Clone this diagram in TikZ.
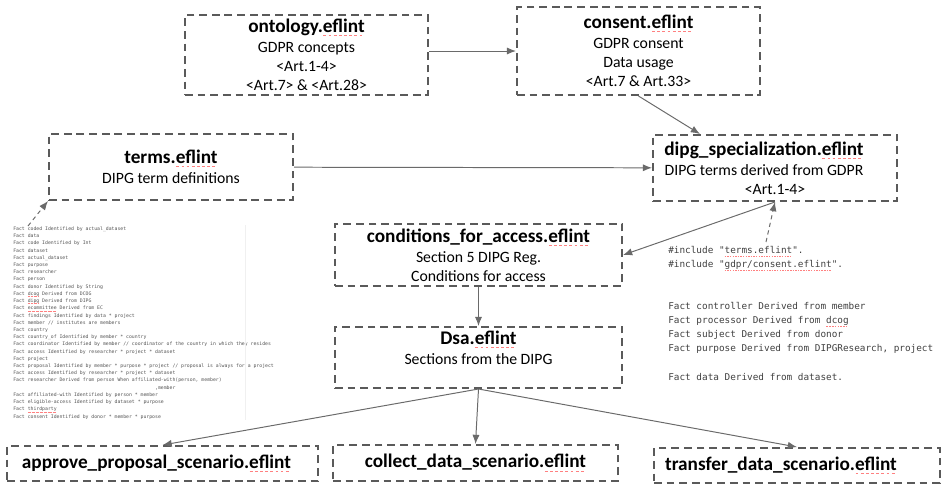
\documentclass[tikz,border=0pt]{standalone}
\usepackage{fontspec}
\setmainfont{Carlito}
\setmonofont{DejaVu Sans Mono}
\usetikzlibrary{arrows.meta,calc}
\definecolor{boxgray}{HTML}{5A5A5A}
\definecolor{linegray}{HTML}{6A6A6A}
\definecolor{codegray}{HTML}{555555}
\newsavebox\spellbox
\newcommand\spell[1]{\sbox\spellbox{#1}\leavevmode\rlap{\raisebox{-0.4ex}{\textcolor{red!50}{\hbox to \wd\spellbox{\xleaders\hbox{\rule{0.3ex}{0.09ex}\kern0.2ex}\hfil}}}}\usebox\spellbox}
\newcommand\ttl{\fontsize{13.7}{17}\selectfont\bfseries}

\begin{document}
\begin{tikzpicture}[x=0.025cm,y=-0.025cm,
	box/.style={draw=boxgray,line width=1.4pt,dash pattern=on 5.5pt off 3.5pt,
		inner sep=0pt,align=center,font=\fontsize{11.2}{13.5}\selectfont},
	conn/.style={draw=linegray,line width=0.7pt,-{Latex[length=2.3mm,width=1.8mm]}},
	dconn/.style={draw=linegray,line width=0.7pt,dash pattern=on 3pt off 2.5pt,-{Latex[length=2.3mm,width=1.8mm]}},
	code/.style={anchor=north west,inner sep=0pt,align=left,text=codegray}]
	\useasboundingbox (0,0) rectangle (942,483);
				\node[box,minimum width=6.075cm,minimum height=2cm] (onto) at (306.5,55)
					{{\ttl ontology.\spell{eflint}}\\[1pt] GDPR concepts\\ <Art.1-4>\\ <Art.7> \& <Art.28>};
				\node[box,minimum width=6.075cm,minimum height=2.2cm] (cons) at (638.5,51)
					{{\ttl consent.\spell{eflint}}\\[1pt] GDPR consent\\ Data usage\\ <Art.7 \& Art.33>};
				\node[box,minimum width=6.1cm,minimum height=1.65cm] (terms) at (171,167)
					{{\ttl terms.\spell{eflint}}\\[1pt] DIPG term definitions};
				\node[box,minimum width=6.1cm,minimum height=1.65cm] (dipg) at (775,168)
					{{\ttl dipg\_specialization.\spell{eflint}}\rule{0.55cm}{0pt}\\[1pt]
					DIPG terms derived from GDPR\rule{0.55cm}{0pt}\\ <Art.1-4>};
				\node[box,minimum width=7.175cm,minimum height=1.55cm] (cond) at (478.5,255)
					{{\ttl conditions\_for\_access.\spell{eflint}}\\[1pt] Section 5 DIPG Reg.\\ Conditions for access};
				\node[box,minimum width=7.175cm,minimum height=1.525cm] (dsa) at (478.5,357.5)
					{{\ttl Dsa.\spell{eflint}}\\[1pt] Sections from the DIPG\\ ~};
				\node[box,minimum width=7.775cm,minimum height=0.875cm] (appr) at (162.5,463.5)
					{\ttl approve\_proposal\_scenario.\spell{eflint}\rule{0.3cm}{0pt}};
				\node[box,minimum width=7.125cm,minimum height=0.9cm] (coll) at (475.5,463)
					{\ttl collect\_data\_scenario.\spell{eflint}};
				\node[box,minimum width=7.15cm,minimum height=0.875cm] (trans) at (797,465.5)
					{\ttl transfer\_data\_scenario.\spell{eflint}\rule{0.8cm}{0pt}};
				% eflint sources shown as code
				\node[code,font=\ttfamily\fontsize{3.42}{5.13}\selectfont] (facts) at (13,226.5)
					{Fact coded Identified by actual\_dataset\\
					Fact data\\
					Fact code Identified by Int\\
					Fact dataset\\
					Fact actual\_dataset\\
					Fact purpose\\
					Fact researcher\\
					Fact person\\
					Fact donor Identified by String\\
					Fact \spell{dcog} Derived from DCOG\\
					Fact \spell{dipg} Derived from DIPG\\
					Fact \spell{ecommittee} Derived from EC\\
					Fact findings Identified by data * project\\
					Fact member // institutes are members\\
					Fact country\\
					Fact country\_of Identified by member * country\\
					Fact coordinator Identified by member // coordinator of the country in which they resides\\
					Fact access Identified by researcher * project * dataset\\
					Fact project\\
					Fact proposal Identified by member * purpose * project // proposal is always for a project\\
					Fact access Identified by researcher * project * dataset\\
					Fact researcher Derived from person When affiliated-with(person, member)\\
					\hphantom{Fact researcher Derived from person When affiliat},member\\
					Fact affiliated-with Identified by person * member\\
					Fact eligible-access Identified by dataset * purpose\\
					Fact \spell{thirdparty}\\
					Fact consent Identified by donor * member * purpose};
				\node[code,font=\ttfamily\fontsize{6.66}{9.96}\selectfont,text=black!75] (incl) at (668,246.5)
					{\#include "\spell{terms.eflint}".\\
					\#include "\spell{gdpr/consent.eflint}".\\
					~\\
					~\\
					Fact controller Derived from member\\
					Fact processor Derived from \spell{dcog}\\
					Fact subject Derived from donor\\
					Fact purpose Derived from DIPGResearch, project\\
					~\\
					Fact data Derived from dataset.};
				\draw[gray!12] (245,225) -- (245,420);
				\coordinate (factstail) at (28,226);
				\coordinate (incltail) at (766,242);
				\draw[conn] (onto.east |- cons.west) -- (cons.west);
				\draw[conn] (cons.south) -- ($(dipg.north)+(-75,0)$);
				\draw[conn] (terms) -- (dipg);
				\draw[conn] (dipg.south) -- (cond.east);
				\draw[dconn] (factstail) -- (terms.south west);
				\draw[dconn] (incltail) -- (dipg.south);
				\draw[conn] (cond) -- (dsa);
				\draw[conn] (dsa.south) -- (appr.north);
				\draw[conn] (dsa.south) -- (coll.north);
				\draw[conn] (dsa.south) -- (trans.north);
			\end{tikzpicture}
\end{document}
